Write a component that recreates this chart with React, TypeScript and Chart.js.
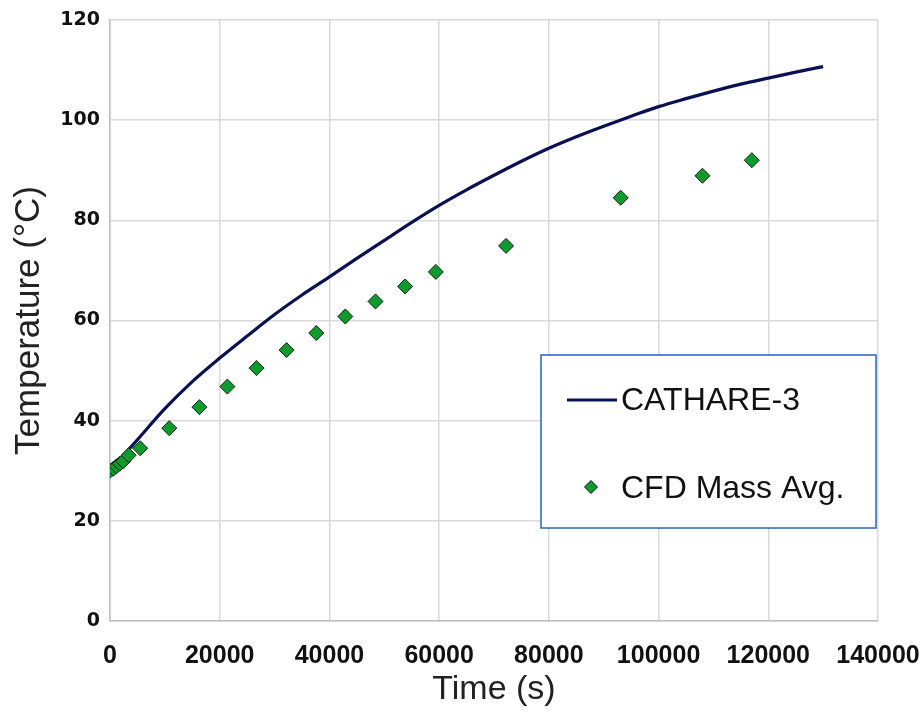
import React, { useEffect, useRef } from "react";
import { Chart, registerables } from "chart.js";

Chart.register(...registerables);

// CATHARE-3 simulation curve
const cathareTime = [0, 2500, 5000, 10000, 15000, 20000, 25000, 30000, 35000, 40000, 45000, 50000, 55000, 60000, 65000, 70000, 75000, 80000, 85000, 90000, 95000, 100000, 105000, 110000, 115000, 120000, 125000, 130000];
const cathareTemp = [30, 33.1, 36.2, 42.4, 47.8, 52.5, 56.9, 61.2, 65.1, 68.7, 72.4, 76.0, 79.6, 83.0, 86.1, 89.0, 91.8, 94.4, 96.7, 98.8, 100.8, 102.7, 104.3, 105.8, 107.2, 108.4, 109.6, 110.7];

// CFD mass-averaged temperature
const cfdTime = [0, 600, 1200, 1800, 2400, 3400, 5500, 10800, 16300, 21400, 26700, 32200, 37600, 42900, 48400, 53800, 59400, 72200, 93100, 108000, 117000];
const cfdTemp = [30, 30.4, 30.9, 31.4, 31.9, 33.1, 34.5, 38.5, 42.7, 46.8, 50.5, 54.1, 57.5, 60.8, 63.8, 66.8, 69.7, 74.9, 84.5, 88.9, 92.0];

const xTicks = [0, 20000, 40000, 60000, 80000, 100000, 120000, 140000];
const yTicks = [0, 20, 40, 60, 80, 100, 120];

const seriesNames = ["CATHARE-3", "CFD Mass Avg."];
const axisTitles = { x: "Time (s)", y: "Temperature (°C)" };

const LINE_COLOR = "#0b1150";
const POINT_COLOR = "#0d9b2c";

const legendPlugin = {
  id: "boxLegend",
  afterDraw(chart: any) {
    const ca = chart.chartArea;
    const ctx = chart.ctx;
    const bx = ca.left + 431;
    const by = ca.top + 335;
    const bw = 335;
    const bh = 173;
    ctx.save();
    ctx.fillStyle = "#ffffff";
    ctx.fillRect(bx, by, bw, bh);
    ctx.strokeStyle = "#2f5fbf";
    ctx.lineWidth = 1.5;
    ctx.strokeRect(bx, by, bw, bh);
    // line sample
    ctx.strokeStyle = LINE_COLOR;
    ctx.lineWidth = 3;
    ctx.beginPath();
    ctx.moveTo(bx + 26, by + 45);
    ctx.lineTo(bx + 76, by + 45);
    ctx.stroke();
    // diamond sample
    const dx = bx + 50;
    const dy = by + 132;
    const r = 6.5;
    ctx.beginPath();
    ctx.moveTo(dx, dy - r);
    ctx.lineTo(dx + r, dy);
    ctx.lineTo(dx, dy + r);
    ctx.lineTo(dx - r, dy);
    ctx.closePath();
    ctx.fillStyle = POINT_COLOR;
    ctx.fill();
    ctx.strokeStyle = "#111111";
    ctx.lineWidth = 1;
    ctx.stroke();
    ctx.fillStyle = "#111111";
    ctx.font = '32px "Liberation Sans", Arial, sans-serif';
    ctx.textBaseline = "middle";
    ctx.textAlign = "left";
    ctx.fillText(seriesNames[0], bx + 80, by + 46);
    ctx.fillText(seriesNames[1], bx + 80, by + 134);
    ctx.restore();
  },
};

export default function App() {
  const ref = useRef<HTMLCanvasElement | null>(null);
  useEffect(() => {
    if (!ref.current) return;
    const chart = new Chart(ref.current, {
      type: "scatter",
      data: {
        datasets: [
          {
            label: seriesNames[1],
            data: cfdTime.map((t, i) => ({ x: t, y: cfdTemp[i] })),
            pointStyle: "rectRot",
            pointRadius: 7.5,
            pointBackgroundColor: POINT_COLOR,
            pointBorderColor: "#1a1a1a",
            pointBorderWidth: 1,
            showLine: false,
            order: 1,
          },
          {
            label: seriesNames[0],
            data: cathareTime.map((t, i) => ({ x: t, y: cathareTemp[i] })),
            showLine: true,
            borderColor: LINE_COLOR,
            borderWidth: 3.2,
            pointRadius: 0,
            cubicInterpolationMode: "monotone",
            order: 2,
          },
        ],
      },
      options: {
        animation: false,
        responsive: true,
        maintainAspectRatio: false,
        layout: { padding: { top: 20, right: 43, left: 0, bottom: 0 } },
        plugins: { legend: { display: false }, tooltip: { enabled: false } },
        scales: {
          x: {
            type: "linear",
            min: 0,
            max: 140000,
            afterBuildTicks(scale: any) {
              scale.ticks = xTicks.map((v) => ({ value: v }));
            },
            afterFit(scale: any) {
              scale.height = 97;
              scale.paddingLeft = 0;
              scale.paddingRight = 0;
            },
            grid: { color: "#d9d9d9", lineWidth: 1.5, drawTicks: false },
            border: { color: "#bfbfbf", width: 1.5 },
            ticks: {
              padding: 20,
              maxRotation: 0,
              autoSkip: false,
              color: "#111111",
              font: { family: '"Liberation Sans", Arial, sans-serif', size: 25, weight: "bold" },
              callback: (v: any) => String(v),
            },
            title: {
              display: true,
              text: axisTitles.x,
              color: "#222222",
              font: { family: '"Liberation Sans", Arial, sans-serif', size: 34 },
              padding: { top: 0, bottom: 8 },
            },
          },
          y: {
            type: "linear",
            min: 0,
            max: 120,
            afterBuildTicks(scale: any) {
              scale.ticks = yTicks.map((v) => ({ value: v }));
            },
            afterFit(scale: any) {
              scale.width = 110;
              scale.paddingTop = 0;
              scale.paddingBottom = 0;
            },
            grid: { color: "#d9d9d9", lineWidth: 1.5, drawTicks: false },
            border: { color: "#bfbfbf", width: 1.5 },
            ticks: {
              padding: 10,
              color: "#111111",
              font: { family: '"DejaVu Sans", sans-serif', size: 19, weight: "bold" },
            },
            title: {
              display: true,
              text: axisTitles.y,
              color: "#222222",
              font: { family: '"Liberation Sans", Arial, sans-serif', size: 35 },
              padding: { top: 8, bottom: 0 },
            },
          },
        },
      },
      plugins: [legendPlugin],
    });
    return () => chart.destroy();
  }, []);
  return (
    <div style={{ position: "fixed", left: 0, top: 0, width: 921, height: 718, background: "#ffffff" }}>
      <canvas ref={ref} />
    </div>
  );
}
